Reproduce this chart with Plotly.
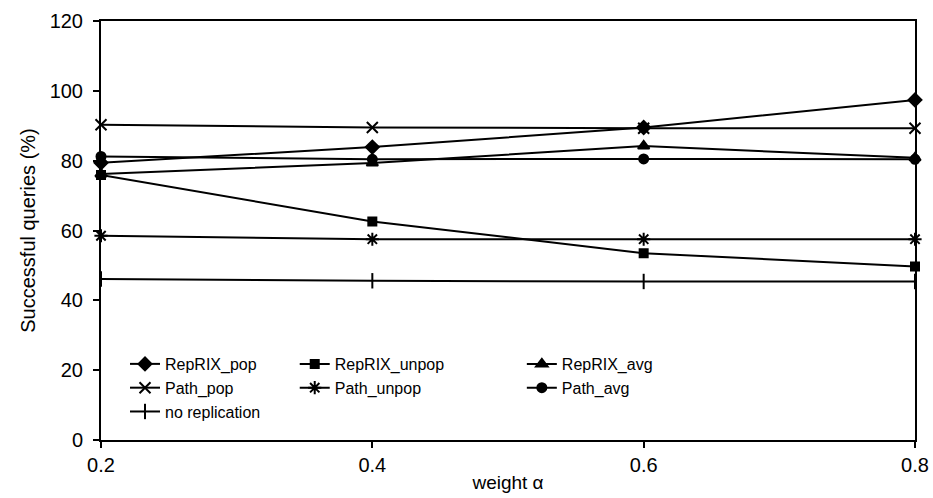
import plotly.graph_objects as go

weights = [0.2, 0.4, 0.6, 0.8]
reprix_pop = [79.4, 83.9, 89.5, 97.4]
reprix_unpop = [75.9, 62.6, 53.5, 49.7]
reprix_avg = [76.2, 79.3, 84.2, 80.8]
path_pop = [90.3, 89.5, 89.3, 89.3]
path_unpop = [58.5, 57.5, 57.5, 57.5]
path_avg = [81.2, 80.4, 80.5, 80.4]
no_replication = [46.1, 45.6, 45.4, 45.4]

# (name, values, marker symbol, marker size, legend column)
series = [
    ("RepRIX_pop", reprix_pop, "diamond", 10, "legend"),
    ("RepRIX_unpop", reprix_unpop, "square", 8, "legend2"),
    ("RepRIX_avg", reprix_avg, "triangle-up", 10, "legend3"),
    ("Path_pop", path_pop, "x-thin-open", 11, "legend"),
    ("Path_unpop", path_unpop, "asterisk-open", 11, "legend2"),
    ("Path_avg", path_avg, "circle", 9, "legend3"),
    ("no replication", no_replication, "line-ns-open", 11, "legend"),
]

fig = go.Figure()
for name, vals, sym, sz, leg in series:
    fig.add_trace(go.Scatter(
        x=weights, y=vals, name=name, mode="lines+markers",
        line=dict(color="black", width=2),
        marker=dict(symbol=sym, size=sz, color="black",
                    line=dict(color="black", width=2)),
        cliponaxis=False, legend=leg,
    ))

font = dict(family="Liberation Sans, Arial, sans-serif", size=19, color="black")
leg_common = dict(y=0.222, xanchor="left", yanchor="top", orientation="v",
                  bgcolor="rgba(0,0,0,0)", font=dict(size=16),
                  itemwidth=30, tracegroupgap=0)

fig.update_layout(
    width=933, height=498,
    margin=dict(l=101, r=18, t=21, b=58),
    paper_bgcolor="white", plot_bgcolor="white",
    font=font,
    showlegend=True,
    legend=dict(x=0.0295, **leg_common),
    legend2=dict(x=0.238, **leg_common),
    legend3=dict(x=0.517, **leg_common),
    xaxis=dict(
        range=[0.2, 0.8], tickvals=weights, ticktext=["0.2", "0.4", "0.6", "0.8"],
        showgrid=False, zeroline=False, showline=True, linecolor="black", linewidth=2,
        mirror=True, ticks="outside", ticklen=6, tickwidth=1.5, tickcolor="black",
        automargin=False,
        title=dict(text="weight α", standoff=1, font=dict(size=19)),
        tickfont=dict(size=20),
    ),
    yaxis=dict(
        range=[0, 120], tickvals=[0, 20, 40, 60, 80, 100, 120],
        showgrid=False, zeroline=False, showline=True, linecolor="black", linewidth=2,
        mirror=True, ticks="outside", ticklen=6, tickwidth=1.5, tickcolor="black",
        ticklabelstandoff=6, automargin=False,
        title=dict(text="Successful queries (%)", standoff=9, font=dict(size=20)),
        tickfont=dict(size=20),
    ),
)

fig.write_html("out.html")
